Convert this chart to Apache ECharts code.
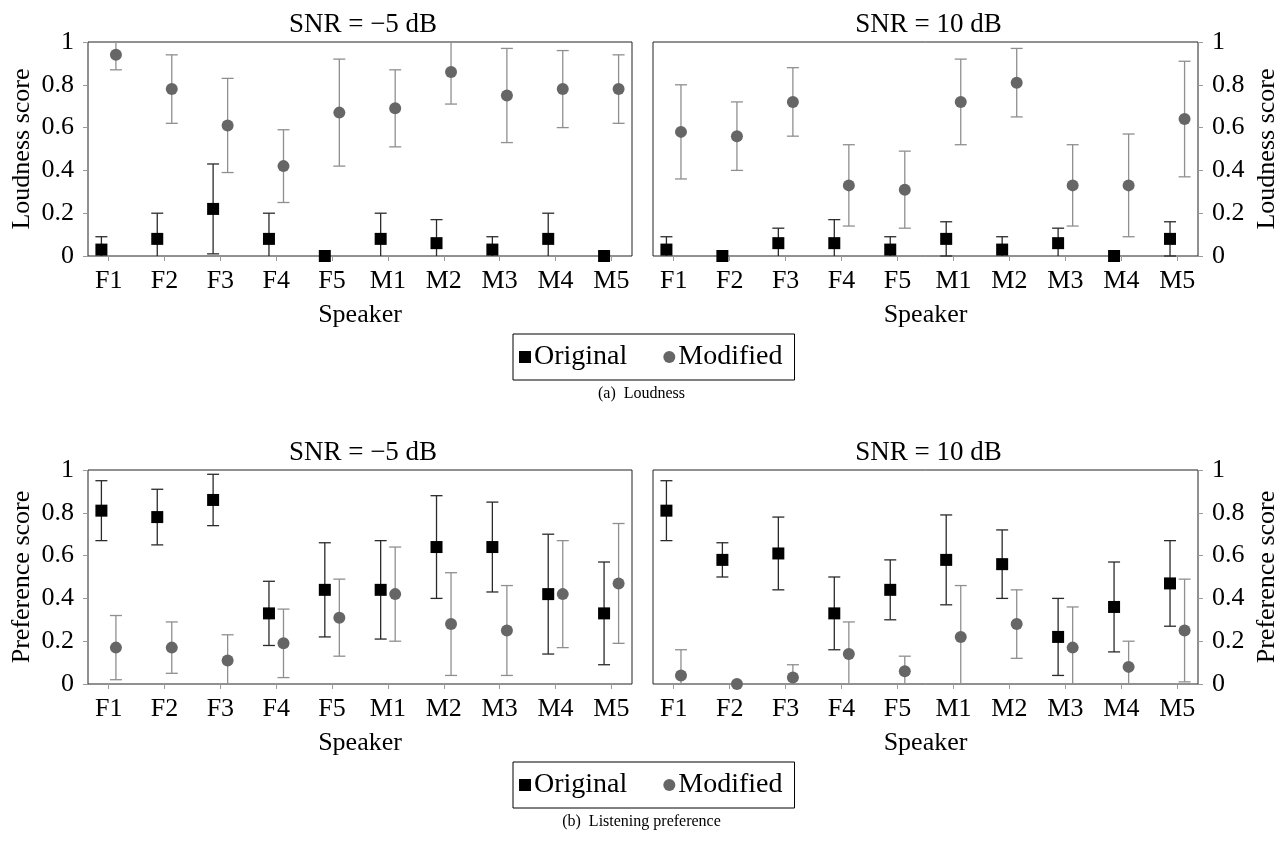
<!DOCTYPE html>
<html>
<head>
<meta charset="utf-8">
<script src="https://cdn.jsdelivr.net/npm/echarts@6/dist/echarts.min.js"></script>
<style>
html,body{margin:0;padding:0;background:#fff;}
#c{width:1283px;height:846px;}
</style>
</head>
<body>
<div id="c"></div>
<script>
// ---- data ----
const speakers = ['F1','F2','F3','F4','F5','M1','M2','M3','M4','M5'];
const panelTitles = ['SNR = \u22125 dB','SNR = 10 dB','SNR = \u22125 dB','SNR = 10 dB'];
const yNames = ['Loudness score','Preference score'];
const captions = ['(a)  Loudness','(b)  Listening preference'];
const seriesNames = ['Original','Modified'];

// Loudness, SNR = -5 dB
const origL5   = [0.03, 0.08, 0.22, 0.08, 0.00, 0.08, 0.06, 0.03, 0.08, 0.00];
const origL5Lo = [-0.03,-0.04, 0.01,-0.04, 0.00,-0.04,-0.05,-0.03,-0.04, 0.00];
const origL5Hi = [0.09, 0.20, 0.43, 0.20, 0.00, 0.20, 0.17, 0.09, 0.20, 0.00];
const modL5    = [0.94, 0.78, 0.61, 0.42, 0.67, 0.69, 0.86, 0.75, 0.78, 0.78];
const modL5Lo  = [0.87, 0.62, 0.39, 0.25, 0.42, 0.51, 0.71, 0.53, 0.60, 0.62];
const modL5Hi  = [1.01, 0.94, 0.83, 0.59, 0.92, 0.87, 1.01, 0.97, 0.96, 0.94];

// Loudness, SNR = 10 dB
const origL10   = [0.03, 0.00, 0.06, 0.06, 0.03, 0.08, 0.03, 0.06, 0.00, 0.08];
const origL10Lo = [-0.03, 0.00,-0.01,-0.05,-0.03, 0.00,-0.03,-0.01, 0.00, 0.00];
const origL10Hi = [0.09, 0.00, 0.13, 0.17, 0.09, 0.16, 0.09, 0.13, 0.00, 0.16];
const modL10    = [0.58, 0.56, 0.72, 0.33, 0.31, 0.72, 0.81, 0.33, 0.33, 0.64];
const modL10Lo  = [0.36, 0.40, 0.56, 0.14, 0.13, 0.52, 0.65, 0.14, 0.09, 0.37];
const modL10Hi  = [0.80, 0.72, 0.88, 0.52, 0.49, 0.92, 0.97, 0.52, 0.57, 0.91];

// Preference, SNR = -5 dB
const origP5   = [0.81, 0.78, 0.86, 0.33, 0.44, 0.44, 0.64, 0.64, 0.42, 0.33];
const origP5Lo = [0.67, 0.65, 0.74, 0.18, 0.22, 0.21, 0.40, 0.43, 0.14, 0.09];
const origP5Hi = [0.95, 0.91, 0.98, 0.48, 0.66, 0.67, 0.88, 0.85, 0.70, 0.57];
const modP5    = [0.17, 0.17, 0.11, 0.19, 0.31, 0.42, 0.28, 0.25, 0.42, 0.47];
const modP5Lo  = [0.02, 0.05,-0.01, 0.03, 0.13, 0.20, 0.04, 0.04, 0.17, 0.19];
const modP5Hi  = [0.32, 0.29, 0.23, 0.35, 0.49, 0.64, 0.52, 0.46, 0.67, 0.75];

// Preference, SNR = 10 dB
const origP10   = [0.81, 0.58, 0.61, 0.33, 0.44, 0.58, 0.56, 0.22, 0.36, 0.47];
const origP10Lo = [0.67, 0.50, 0.44, 0.16, 0.30, 0.37, 0.40, 0.04, 0.15, 0.27];
const origP10Hi = [0.95, 0.66, 0.78, 0.50, 0.58, 0.79, 0.72, 0.40, 0.57, 0.67];
const modP10    = [0.04, 0.00, 0.03, 0.14, 0.06, 0.22, 0.28, 0.17, 0.08, 0.25];
const modP10Lo  = [-0.08, 0.00,-0.03,-0.01,-0.01,-0.02, 0.12,-0.02,-0.04, 0.01];
const modP10Hi  = [0.16, 0.00, 0.09, 0.29, 0.13, 0.46, 0.44, 0.36, 0.20, 0.49];

// ---- chart ----
const FONT = 'Liberation Serif';
const panels = [
  {o:[origL5, origL5Lo, origL5Hi],   m:[modL5, modL5Lo, modL5Hi]},
  {o:[origL10,origL10Lo,origL10Hi],  m:[modL10,modL10Lo,modL10Hi]},
  {o:[origP5, origP5Lo, origP5Hi],   m:[modP5, modP5Lo, modP5Hi]},
  {o:[origP10,origP10Lo,origP10Hi],  m:[modP10,modP10Lo,modP10Hi]}
];
const ROW_OFF = 428;
const gridDefs = [
  {left:88,  top:42,         width:544, height:214},
  {left:653, top:42,         width:545, height:214},
  {left:88,  top:42+ROW_OFF, width:544, height:214},
  {left:653, top:42+ROW_OFF, width:545, height:214}
];
const DODGE = 0.13;
const idx = speakers.map((s,i)=>i);

const grid = gridDefs.map(g => Object.assign({show:true, borderColor:'#222', borderWidth:1, backgroundColor:'transparent'}, g));

const xAxis = gridDefs.map((g,k) => ({
  type:'value', gridIndex:k, min:-0.37, max:9.37,
  name:'Speaker', nameLocation:'middle', nameGap:46,
  nameTextStyle:{fontFamily:FONT, fontSize:26, color:'#000'},
  axisLine:{show:false, onZero:false},
  splitLine:{show:false},
  axisTick:{show:true, customValues:idx, length:5, lineStyle:{color:'#999', width:1}},
  axisLabel:{customValues:idx, fontFamily:FONT, fontSize:26, color:'#000', margin:12,
    formatter:v=>speakers[Math.round(v)]}
}));

const yAxis = gridDefs.map((g,k) => {
  const right = (k%2===1);
  return {
    type:'value', gridIndex:k, min:0, max:1, interval:0.2,
    position: right ? 'right' : 'left',
    name: yNames[Math.floor(k/2)], nameLocation:'middle', nameRotate:90,
    nameGap: right ? 56 : 53,
    nameTextStyle:{fontFamily:FONT, fontSize:26, color:'#000'},
    axisLine:{show:false, onZero:false},
    splitLine:{show:false},
    axisTick:{show:true, length:5, lineStyle:{color:'#999', width:1}},
    axisLabel:{fontFamily:FONT, fontSize:26, color:'#000', margin:14,
      formatter:v=> (v===0?'0':(v===1?'1':v.toFixed(1)))}
  };
});

function errRender(color){
  return function(params, api){
    const x = api.value(0), lo = api.value(1), hi = api.value(2);
    const cs = params.coordSys;
    const yMin = cs.y, yMax = cs.y + cs.height;
    const pLo = api.coord([x, lo]), pHi = api.coord([x, hi]);
    const clampY = y => Math.max(yMin, Math.min(yMax, y));
    const y1 = clampY(pLo[1]), y2 = clampY(pHi[1]);
    const cx = pLo[0];
    const hw = 6;
    const children = [];
    const st = {stroke:color, lineWidth:1.3};
    const hasBar = Math.abs(pLo[1]-pHi[1]) > 0.5;
    if (hasBar && Math.abs(y1-y2) > 0.5) {
      children.push({type:'line', shape:{x1:cx, y1:y1, x2:cx, y2:y2}, style:st});
    }
    if (hasBar && pLo[1] <= yMax + 0.01 && pLo[1] >= yMin - 0.01)
      children.push({type:'line', shape:{x1:cx-hw, y1:pLo[1], x2:cx+hw, y2:pLo[1]}, style:st});
    if (hasBar && pHi[1] >= yMin - 0.01 && pHi[1] <= yMax + 0.01)
      children.push({type:'line', shape:{x1:cx-hw, y1:pHi[1], x2:cx+hw, y2:pHi[1]}, style:st});
    return {type:'group', children};
  };
}

const series = [];
panels.forEach((p,k) => {
  const oErr = p.o[0].map((v,i)=>[i-DODGE, p.o[1][i], p.o[2][i]]);
  const mErr = p.m[0].map((v,i)=>[i+DODGE, p.m[1][i], p.m[2][i]]);
  series.push({type:'custom', name:'Original', xAxisIndex:k, yAxisIndex:k, z:2,
    renderItem: errRender('#2a2a2a'), data:oErr, encode:{x:0, y:[1,2]}, silent:true});
  series.push({type:'custom', name:'Modified', xAxisIndex:k, yAxisIndex:k, z:2,
    renderItem: errRender('#8f8f8f'), data:mErr, encode:{x:0, y:[1,2]}, silent:true});
  series.push({type:'scatter', name:'Original', xAxisIndex:k, yAxisIndex:k, z:3,
    symbol:'rect', symbolSize:12, itemStyle:{color:'#000', opacity:1},
    data:p.o[0].map((v,i)=>[i-DODGE, v]), clip:false});
  series.push({type:'scatter', name:'Modified', xAxisIndex:k, yAxisIndex:k, z:4,
    symbol:'circle', symbolSize:12, itemStyle:{color:'#666', opacity:1},
    data:p.m[0].map((v,i)=>[i+DODGE, v]), clip:false});
});

const title = gridDefs.map((g,k)=>({
  text: panelTitles[k], left: g.left + g.width/2 - 2, top: g.top - 36, textAlign:'center',
  textStyle:{fontFamily:FONT, fontSize:27, fontWeight:'normal', color:'#000'}
}));

const legendData = [
  {name:'Original', icon:'rect', itemStyle:{color:'#000'}},
  {name:'Modified', icon:'circle', itemStyle:{color:'#666'}}
];
const legend = [0,1].map(r => ({
  data: legendData, left:513, top:334 + r*ROW_OFF, orient:'horizontal',
  itemWidth:12, itemHeight:12, itemGap:36,
  padding:[9,12,9,6], borderColor:'#000', borderWidth:1, borderRadius:0,
  textStyle:{fontFamily:FONT, fontSize:28, color:'#000', padding:[0,0,0,-2]},
  selectedMode:false
}));

const graphic = [0,1].map(r => ({
  type:'text', left:'center', top: 386 + r*ROW_OFF,
  style:{text: captions[r], fontFamily:FONT, fontSize:16, fill:'#000'}
}));

const chart = echarts.init(document.getElementById('c'), null, {renderer:'canvas'});
chart.setOption({
  animation:false,
  backgroundColor:'#fff',
  textStyle:{fontFamily:FONT},
  title, legend, grid, xAxis, yAxis, series, graphic
});
</script>
</body>
</html>
